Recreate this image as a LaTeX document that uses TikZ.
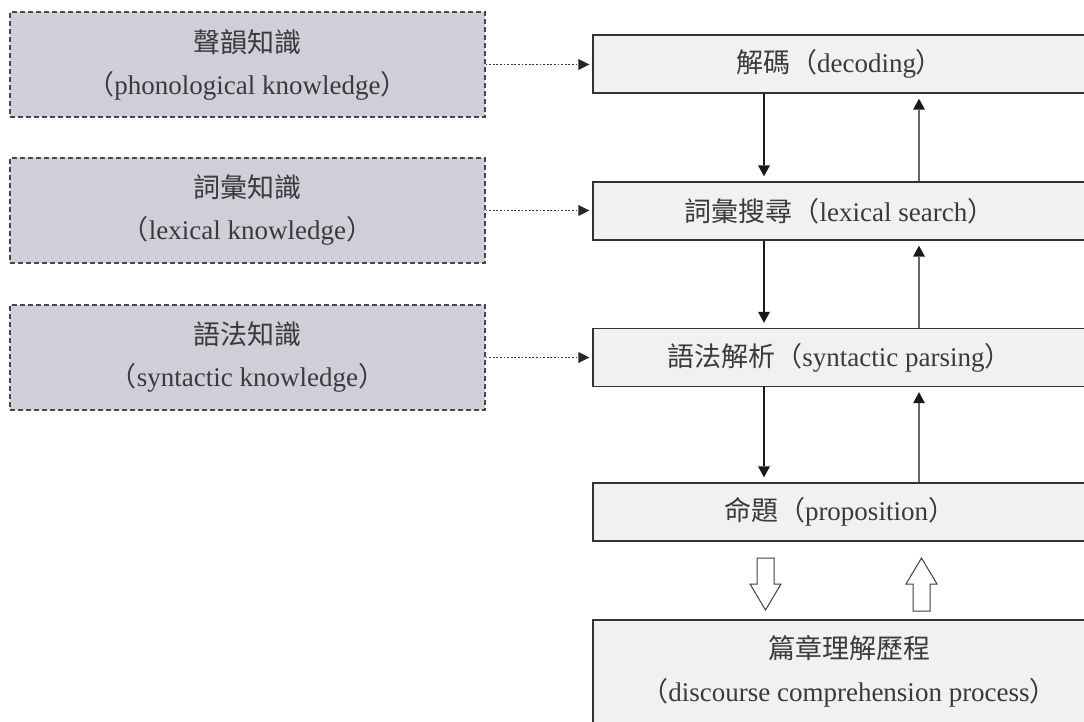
\documentclass[tikz,border=0pt]{standalone}
\usepackage{fontspec}
\setmainfont{Liberation Serif}
\newfontfamily\cjk{Noto Sans CJK TC}
\usetikzlibrary{arrows.meta}
\definecolor{knowfill}{HTML}{CFCFD9}
\definecolor{procfill}{HTML}{F0F1F3}
\definecolor{txt}{HTML}{3A3A3A}
\definecolor{edge}{HTML}{333333}
\tikzset{
  knowbox/.style={draw=edge!90, fill=knowfill, line width=1.1pt, dash pattern=on 5pt off 3pt,
    minimum width=475pt, minimum height=105pt, inner sep=0pt, align=center,
    text=txt, font=\fontsize{27pt}{42pt}\selectfont},
  procbox/.style={draw=edge, fill=procfill, line width=1.4pt,
    minimum width=493pt, minimum height=58pt, inner sep=0pt, align=center,
    text=txt, font=\fontsize{27pt}{42pt}\selectfont},
  txtnode/.style={inner sep=0pt, align=center, text=txt, font=\fontsize{27pt}{43pt}\selectfont},
  dotarr/.style={draw=edge, line width=1.2pt, dash pattern=on 1.8pt off 1.8pt,
    -{Triangle[length=11pt,width=11pt,fill=black!85,line width=0pt]}, shorten >=3pt},
  downarr/.style={draw=black!90, line width=1.1pt, -{Triangle[length=11pt,width=12pt,line width=0pt]}, shorten >=5pt},
  uparr/.style={draw=black!60, line width=1.1pt, -{Triangle[length=11pt,width=12pt,fill=black!90,line width=0pt]}, shorten >=5pt},
  hollow/.style={draw=black!75, fill=white, line width=1pt, line join=miter}
}
\begin{document}
\begin{tikzpicture}[x=1pt,y=-1pt]
\useasboundingbox (0,0) rectangle (1084,721);
\clip (0,0) rectangle (1084,721);
\fill[white] (0,0) rectangle (1084,721);

% knowledge boxes
\node[knowbox] (k1) at (247.5,64.5) {\cjk 聲韻知識\\\cjk（\normalfont phonological knowledge\cjk）};
\node[knowbox] (k2) at (247.5,210.5) {\cjk 詞彙知識\\\cjk（\normalfont lexical knowledge\cjk）};
\node[knowbox] (k3) at (247.5,357.5) {\cjk 語法知識\\\cjk（\normalfont syntactic knowledge\cjk）};

% process boxes
\node[procbox] (p1) at (839.5,64) {{\cjk 解碼（}decoding{\cjk ）}};
\node[procbox] (p2) at (839.5,211) {{\cjk 詞彙搜尋（}lexical search{\cjk ）}};
\node[procbox] (p3) at (839.5,357.5) {{\cjk 語法解析（}syntactic parsing{\cjk ）}};
\node[procbox] (p4) at (839.5,512) {{\cjk 命題（}proposition{\cjk ）}};
\node[procbox, minimum width=512pt, minimum height=150pt] (p5) at (849,695) {};
\node[txtnode] (p5t) at (849,671.5) {\cjk 篇章理解歷程\\{\cjk （}discourse comprehension process{\cjk ）}};

% dotted arrows
\draw[dotarr] (k1.east) -- (p1.west |- k1.east);
\draw[dotarr] (k2.east) -- (p2.west |- k2.east);
\draw[dotarr] (k3.east) -- (p3.west |- k3.east);

% vertical arrows
\coordinate (dn) at (764,0);
\coordinate (up) at (919,0);
\draw[downarr] (p1.south -| dn) -- (p2.north -| dn);
\draw[downarr] (p2.south -| dn) -- (p3.north -| dn);
\draw[downarr] (p3.south -| dn) -- (p4.north -| dn);
\draw[uparr] (p2.north -| up) -- (p1.south -| up);
\draw[uparr] (p3.north -| up) -- (p2.south -| up);
\draw[uparr] (p4.north -| up) -- (p3.south -| up);

% hollow block arrows
\draw[hollow] (757,558) -- (774,558) -- (774,584) -- (781,584) -- (765.5,610) -- (750,584) -- (757,584) -- cycle;
\draw[hollow] (913,611) -- (930,611) -- (930,584) -- (937,584) -- (921.5,558) -- (906,584) -- (913,584) -- cycle;
\end{tikzpicture}
\end{document}
